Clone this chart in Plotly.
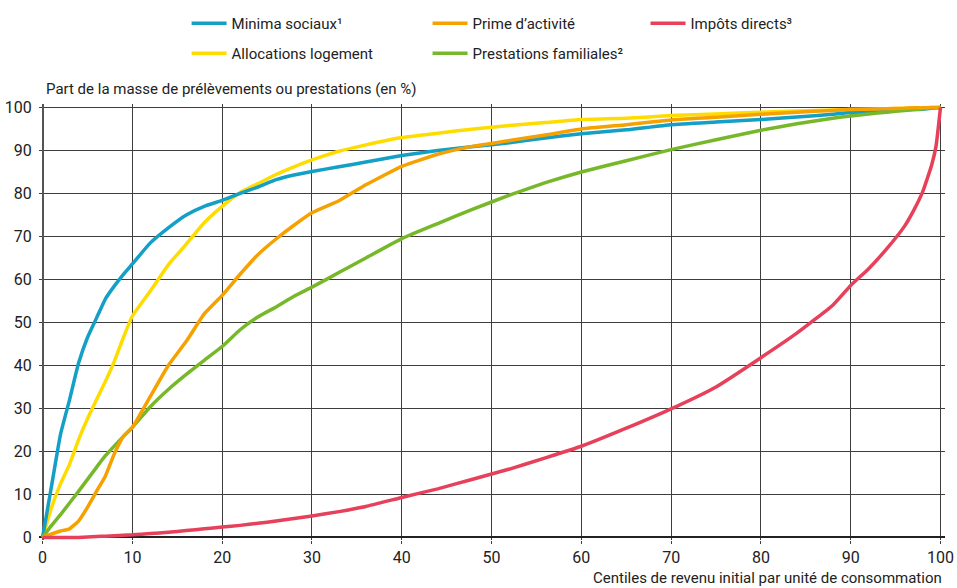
import plotly.graph_objects as go

centiles = [0, 1, 2, 3, 4, 5, 6, 7, 8, 9, 10, 12, 14, 16, 18, 20, 22, 24, 26, 28, 30,
            33, 36, 40, 44, 48, 52, 56, 60, 65, 70, 75, 80, 84, 88, 90, 92, 94, 96,
            97, 98, 99, 99.5, 100]

minima_sociaux = [0, 12, 24, 32, 40.5, 46.5, 51, 55.5, 58.5, 61.2, 63.6, 68.5, 72, 75, 77,
                  78.4, 80, 81.5, 83.2, 84.3, 85.1, 86.2, 87.3, 88.8, 90, 90.9, 91.8, 92.9,
                  93.9, 94.8, 96, 96.6, 97.2, 97.8, 98.4, 98.8, 99, 99.2, 99.4, 99.5, 99.6,
                  99.8, 99.9, 100]
allocations_logement = [0, 7, 12.5, 17, 22.7, 27.6, 32, 36.3, 41, 46.5, 51.5, 57.3, 63.4, 68.2,
                        73.2, 77, 80.2, 82.3, 84.4, 86.2, 87.8, 89.8, 91.3, 93, 94, 95, 95.8,
                        96.5, 97.2, 97.5, 98.1, 98.5, 98.9, 99.2, 99.4, 99.5, 99.6, 99.7,
                        99.8, 99.8, 99.9, 100, 100, 100]
prime_activite = [0, 0.8, 1.5, 2, 3.8, 7, 10.7, 14.3, 19.5, 23.5, 25.6, 32.8, 40, 45.6, 52,
                  56.3, 61.2, 65.8, 69.4, 72.6, 75.5, 78.3, 82, 86.3, 89.1, 91, 92.3, 93.6, 95,
                  96, 97.1, 97.7, 98.4, 98.9, 99.3, 99.5, 99.6, 99.7, 99.8, 99.9, 99.9, 100,
                  100, 100]
prestations_familiales = [0, 2.8, 5.3, 8, 10.7, 13.5, 16.3, 19, 21.3, 23.5, 25.6, 30.4, 34.4,
                          37.9, 41.2, 44.4, 48.3, 51.3, 53.6, 56.1, 58.2, 61.6, 65, 69.5, 73,
                          76.4, 79.6, 82.5, 85, 87.6, 90.2, 92.5, 94.7, 96.2, 97.5, 98, 98.5,
                          98.9, 99.3, 99.5, 99.7, 99.9, 99.95, 100]
impots_directs = [0, 0, 0, 0, 0, 0.1, 0.2, 0.3, 0.4, 0.5, 0.6, 0.9, 1.2, 1.6, 2, 2.4, 2.8,
                  3.3, 3.8, 4.4, 5, 6, 7.2, 9.3, 11.3, 13.6, 15.9, 18.5, 21.2, 25.4, 29.9,
                  35, 41.8, 47.5, 54, 58.6, 62.5, 67.1, 72.4, 76, 80.3, 86.5, 91, 100]

series_names = ["Minima sociaux¹", "Prime d’activité", "Impôts directs³",
                "Allocations logement", "Prestations familiales²"]
tick_vals = [0, 10, 20, 30, 40, 50, 60, 70, 80, 90, 100]

FONT = "Roboto, Liberation Sans, sans-serif"
TXT = "#222222"
FS = 15
TFS = 16

W, H = 957, 588
L, R, T, B = 39.4, 11.5, 103.6, 48.4
PW, PH = W - L - R, H - T - B

def px2paper_x(px):
    return (px - L) / PW

def py2paper_y(py):
    return 1 - (py - T) / PH

traces = [
    (3, allocations_logement, "#ffdc00", "legend4"),
    (0, minima_sociaux, "#139fc6", "legend"),
    (4, prestations_familiales, "#77b82a", "legend5"),
    (1, prime_activite, "#f5a100", "legend2"),
    (2, impots_directs, "#e6405a", "legend3"),
]

fig = go.Figure()
for idx, ys, col, lg in traces:
    fig.add_trace(go.Scatter(
        x=centiles, y=ys, mode="lines", name=series_names[idx],
        line=dict(color=col, width=3.5, shape="spline", smoothing=0.4),
        legend=lg, hoverinfo="x+y+name",
    ))

row1_py, row2_py = 23, 53
col_px = [187, 428, 646]
legend_pos = {
    "legend": (col_px[0], row1_py),
    "legend2": (col_px[1], row1_py),
    "legend3": (col_px[2], row1_py),
    "legend4": (col_px[0], row2_py),
    "legend5": (col_px[1], row2_py),
}
legend_layouts = {}
for key, (lx, ly) in legend_pos.items():
    legend_layouts[key] = dict(
        x=px2paper_x(lx), y=py2paper_y(ly), xanchor="left", yanchor="middle",
        bgcolor="rgba(0,0,0,0)", borderwidth=0,
        font=dict(family=FONT, size=FS, color=TXT), itemwidth=35,
    )

fig.update_layout(
    width=W, height=H,
    margin=dict(l=L, r=R, t=T, b=B, autoexpand=False),
    paper_bgcolor="white", plot_bgcolor="white",
    font=dict(family=FONT, size=FS, color=TXT),
    showlegend=True,
    **legend_layouts,
    xaxis=dict(
        range=[-0.4, 100.5], tickvals=tick_vals, ticktext=[str(v) for v in tick_vals],
        showgrid=True, gridcolor="#3d3d3d", gridwidth=1.4,
        zeroline=True, zerolinecolor="#555555", zerolinewidth=2.2,
        showline=False, ticks="outside", ticklen=3, tickcolor="#3d3d3d", tickwidth=1.4,
        tickfont=dict(family=FONT, size=TFS, color=TXT),
    ),
    yaxis=dict(
        range=[-0.6, 100.8], tickvals=tick_vals, ticktext=[str(v) for v in tick_vals],
        showgrid=True, gridcolor="#3d3d3d", gridwidth=1.4,
        zeroline=True, zerolinecolor="#222222", zerolinewidth=2,
        showline=False, ticks="outside", ticklen=3, tickcolor="rgba(0,0,0,0)",
        tickfont=dict(family=FONT, size=TFS, color=TXT),
    ),
    annotations=[
        dict(text="Part de la masse de prélèvements ou prestations (en %)",
             xref="paper", yref="paper", x=px2paper_x(44), y=py2paper_y(89),
             xanchor="left", yanchor="middle", showarrow=False,
             font=dict(family=FONT, size=FS, color=TXT)),
        dict(text="Centiles de revenu initial par unité de consommation",
             xref="paper", yref="paper", x=px2paper_x(944), y=py2paper_y(578),
             xanchor="right", yanchor="middle", showarrow=False,
             font=dict(family=FONT, size=FS, color=TXT)),
    ],
)

fig.write_html("out.html", config={"displayModeBar": False},
               post_script="document.body.style.margin='0px';")
